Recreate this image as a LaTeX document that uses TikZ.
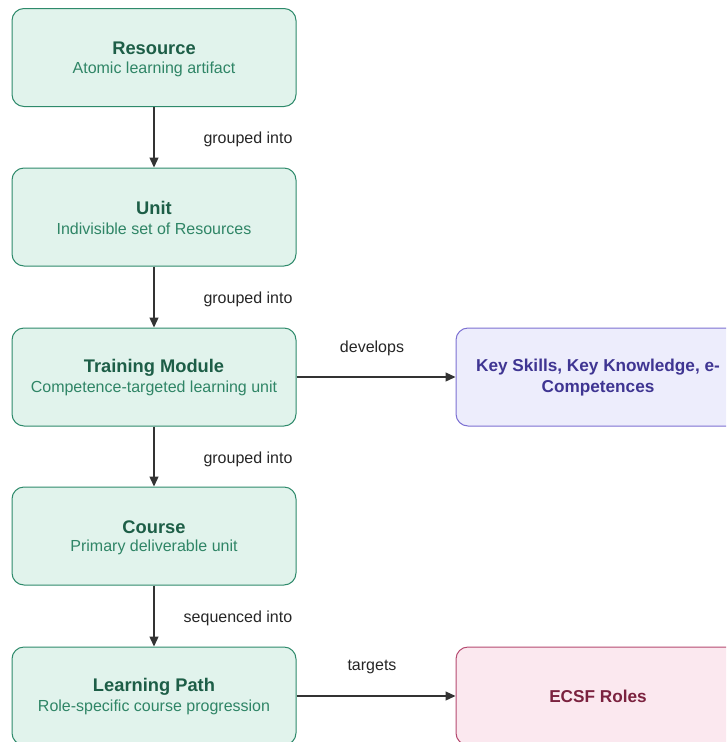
\documentclass[tikz,border=0pt]{standalone}
\usepackage{fontspec}
\setmainfont{Liberation Sans}
\usetikzlibrary{arrows.meta}
\definecolor{gfill}{HTML}{E1F3EC}
\definecolor{gdraw}{HTML}{2E8A6B}
\definecolor{gtitle}{HTML}{1D5E47}
\definecolor{gsub}{HTML}{2F8566}
\definecolor{pfill}{HTML}{EDEDFC}
\definecolor{pdraw}{HTML}{7C70D2}
\definecolor{ptext}{HTML}{3F3592}
\definecolor{rfill}{HTML}{FBE8EF}
\definecolor{rdraw}{HTML}{B54A70}
\definecolor{rtext}{HTML}{7B223F}
\definecolor{edge}{HTML}{333333}
\tikzset{
  gbox/.style={draw=gdraw, fill=gfill, line width=1pt, rounded corners=12pt, minimum width=284pt, minimum height=98pt, inner sep=0pt},
  pbox/.style={draw=pdraw, fill=pfill, line width=1pt, rounded corners=12pt, minimum width=284pt, minimum height=98pt, inner sep=0pt},
  rbox/.style={draw=rdraw, fill=rfill, line width=1pt, rounded corners=12pt, minimum width=284pt, minimum height=98pt, inner sep=0pt},
  ttl/.style={font=\fontsize{18.3}{20}\selectfont\bfseries, text=gtitle, inner sep=0pt},
  rttl/.style={font=\fontsize{17.2}{20}\selectfont\bfseries, inner sep=0pt},
  sub/.style={font=\fontsize{16}{18}\selectfont, text=gsub, inner sep=0pt},
  lbl/.style={font=\fontsize{16}{18}\selectfont, text=black!85, inner sep=0pt},
  conn/.style={draw=edge, line width=1.3pt, -{Triangle[length=10pt,width=9pt]}}
}
\begin{document}
\begin{tikzpicture}[x=1pt,y=-1pt]
\useasboundingbox (0,0) rectangle (726,742);
\clip (0,0) rectangle (726,742);
\node[gbox] (res) at (154,57.5) {};
\node[gbox] (unit) at (154,217) {};
\node[gbox] (tm) at (154,377) {};
\node[gbox] (course) at (154,536) {};
\node[gbox] (lp) at (154,696) {};
\node[pbox] (ks) at (598,377) {};
\node[rbox] (ecsf) at (598,696) {};

\node[ttl] (resT) at ([yshift=9pt]res.center) {Resource};
\node[sub] (resS) at ([yshift=-11.5pt]res.center) {Atomic learning artifact};
\node[ttl] (unitT) at ([yshift=9pt]unit.center) {Unit};
\node[sub] (unitS) at ([yshift=-11.5pt]unit.center) {Indivisible set of Resources};
\node[ttl] (tmT) at ([yshift=9pt]tm.center) {Training Module};
\node[sub] (tmS) at ([yshift=-11.5pt]tm.center) {Competence-targeted learning unit};
\node[ttl] (courseT) at ([yshift=9pt]course.center) {Course};
\node[sub] (courseS) at ([yshift=-11.5pt]course.center) {Primary deliverable unit};
\node[ttl] (lpT) at ([yshift=9pt]lp.center) {Learning Path};
\node[sub] (lpS) at ([yshift=-11.5pt]lp.center) {Role-specific course progression};

\node[rttl, text=ptext] (ksT1) at ([yshift=10pt]ks.center) {Key Skills, Key Knowledge, e-};
\node[rttl, text=ptext] (ksT2) at ([yshift=-11pt]ks.center) {Competences};
\node[rttl, text=rtext] (ecsfT) at (ecsf.center) {ECSF Roles};

\draw[conn] (res.south) -- (unit.north);
\draw[conn] (unit.south) -- (tm.north);
\draw[conn] (tm.south) -- (course.north);
\draw[conn] (course.south) -- (lp.north);
\draw[conn] (tm.east) -- (ks.west);
\draw[conn] (lp.east) -- (ecsf.west);

\node[lbl] (l1) at (248,139) {grouped into};
\node[lbl] (l2) at (248,299) {grouped into};
\node[lbl] (l3) at (248,459) {grouped into};
\node[lbl] (l4) at (238,618) {sequenced into};
\node[lbl] (l5) at (372,348) {develops};
\node[lbl] (l6) at (372,667) {targets};
\end{tikzpicture}
\end{document}
